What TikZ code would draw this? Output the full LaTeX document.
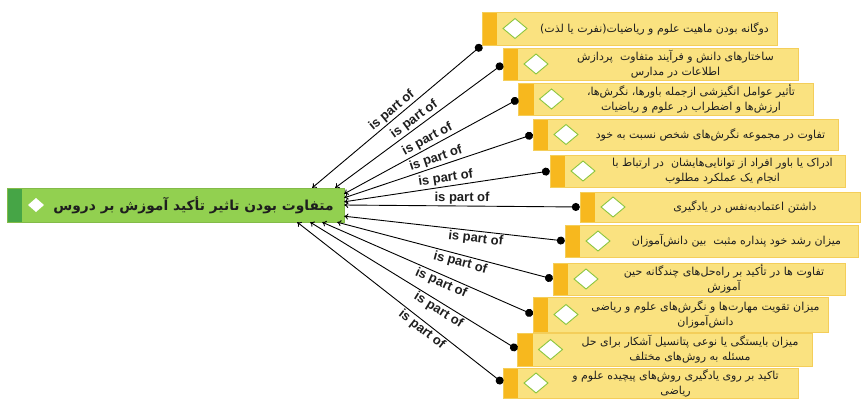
\documentclass[tikz,border=0pt]{standalone}
\usepackage{fontspec}
\setmainfont{Liberation Sans}
\newfontfamily\fa[Script=Arabic]{DejaVu Sans}
\TeXXeTstate=1
\usetikzlibrary{arrows.meta}
\definecolor{boxfill}{RGB}{250,226,128}
\definecolor{boxline}{RGB}{244,206,90}
\definecolor{boxbar}{RGB}{247,184,30}
\definecolor{rootfill}{RGB}{146,208,80}
\definecolor{rootbar}{RGB}{70,165,70}
\definecolor{gem}{RGB}{140,198,63}
\definecolor{ink}{RGB}{30,30,30}

\begin{document}
\begin{tikzpicture}[x=1pt,y=-1pt,
%    every node/.style={draw},
    item/.style={draw=boxline,fill=boxfill,minimum width=295pt,minimum height=32pt,inner sep=0pt,
      path picture={
        \fill[boxbar] (path picture bounding box.north west) rectangle ([xshift=15pt]path picture bounding box.south west);
        \draw[gem,fill=white,line width=0.9pt] ([xshift=21pt]path picture bounding box.west)
          -- ++(12pt,10pt) -- ++(12pt,-10pt) -- ++(-12pt,-10pt) -- cycle;}},
    root/.style={draw=rootfill!90!black,fill=rootfill,minimum width=337pt,minimum height=34pt,inner sep=0pt,
      path picture={
        \fill[rootbar] (path picture bounding box.north west) rectangle ([xshift=15pt]path picture bounding box.south west);
        \fill[white] ([xshift=21pt]path picture bounding box.west)
          -- ++(8pt,7pt) -- ++(8pt,-7pt) -- ++(-8pt,-7pt) -- cycle;}},
    fa/.style={font=\fa\fontsize{11}{15}\selectfont,text=ink,align=center,inner sep=0pt},
    partof/.style={{Circle[length=8pt]}-{To[length=4pt,width=6pt]},line width=0.9pt},
    tag/.style={font=\bfseries\fontsize{13}{15}\selectfont,sloped,text=ink,inner sep=1.5pt}]

    \useasboundingbox (0,0) rectangle (861,399);

    \node[root] (R) at (175.5,205) {};
    \node[fa,font=\fa\bfseries\fontsize{13.8}{16}\selectfont] (RT) at ([xshift=18pt]R.center)
      {\beginR متفاوت بودن تاثیر تأکید آموزش بر دروس\endR};

    \begin{scope}[every node/.append style={item}]
      \node (F1) at (629.5,28.5) [minimum height=33pt] {};
      \node (F2) at (650.5,64) {};
      \node (F3) at (666,99) {};
      \node (F4) at (685.5,134.5) [minimum width=305pt,minimum height=31pt] {};
      \node (F5) at (697.5,171) {};
      \node (F6) at (720,207) [minimum width=280pt,minimum height=30pt] {};
      \node (F7) at (711.5,241) [minimum width=293pt] {};
      \node (F8) at (699,279) [minimum width=292pt] {};
      \node (F9) at (680.5,314.5) [minimum height=35pt] {};
      \node (F10) at (665,349.5) [minimum height=33pt] {};
      \node (F11) at (650.5,383) [minimum height=30pt] {};
    \end{scope}

    \begin{scope}[every node/.append style={fa}]
      \node (T1) at ([xshift=25pt]F1.center) {\beginR دوگانه بودن ماهیت علوم و ریاضیات(نفرت یا لذت)\endR};
      \node (T2) at ([xshift=25pt]F2.center) {\beginR ساختارهای دانش و فرآیند متفاوت~ پردازش\endR\\\beginR اطلاعات در مدارس\endR};
      \node (T3) at ([xshift=25pt]F3.center) {\beginR تأثیر عوامل انگیزشی ازجمله باورها، نگرش‌ها،\endR\\\beginR ارزش‌ها و اضطراب در علوم و ریاضیات\endR};
      \node (T4) at ([xshift=25pt]F4.center) {\beginR تفاوت در مجموعه نگرش‌های شخص نسبت به خود\endR};
      \node (T5) at ([xshift=25pt]F5.center) {\beginR ادراک یا باور افراد از توانایی‌هایشان~ در ارتباط با\endR\\\beginR انجام یک عملکرد مطلوب\endR};
      \node (T6) at ([xshift=25pt]F6.center) {\beginR داشتن اعتمادبه‌نفس در یادگیری\endR};
      \node (T7) at ([xshift=25pt]F7.center) {\beginR میزان رشد خود پنداره مثبت~ بین دانش‌آموزان\endR};
      \node (T8) at ([xshift=25pt]F8.center) {\beginR تفاوت ها در تأکید بر راه‌حل‌های چندگانه حین\endR\\\beginR آموزش\endR};
      \node (T9) at ([xshift=25pt]F9.center) {\beginR میزان تقویت مهارت‌ها و نگرش‌های علوم و ریاضی\endR\\\beginR دانش‌آموزان\endR};
      \node (T10) at ([xshift=25pt]F10.center) {\beginR میزان بایستگی یا نوعی پتانسیل آشکار برای حل\endR\\\beginR مسئله به روش‌های مختلف\endR};
      \node (T11) at ([xshift=25pt]F11.center) {\beginR تاکید بر روی یادگیری روش‌های پیچیده علوم و\endR\\\beginR ریاضی\endR};
    \end{scope}

    \draw[partof] (F1.south west) -- node[tag,above] {is part of} ([xshift=-32pt]R.north east);
    \draw[partof] (F2.west) -- node[tag,above] {is part of} ([xshift=-9pt]R.north east);
    \draw[partof] (F3.west) -- node[tag,above] {is part of} ([yshift=-6pt]R.north east);
    \draw[partof] (F4.west) -- node[tag,above] {is part of} ([yshift=-10pt]R.north east);
    \draw[partof] (F5.west) -- node[tag,above] {is part of} ([yshift=-14pt]R.north east);
    \draw[partof] (F6.west) -- node[tag,above] {is part of} (R.east);
    \draw[partof] (F7.west) -- node[tag,below,pos=0.4] {is part of} ([yshift=6pt]R.south east);
    \draw[partof] (F8.west) -- node[tag,below,pos=0.42] {is part of} ([xshift=-7pt]R.south east);
    \draw[partof] (F9.west) -- node[tag,below,pos=0.42] {is part of} ([xshift=-22pt]R.south east);
    \draw[partof] (F10.west) -- node[tag,below,pos=0.36] {is part of} ([xshift=-34pt]R.south east);
    \draw[partof] (F11.west) -- node[tag,below,pos=0.37] {is part of} ([xshift=-47pt]R.south east);
  \end{tikzpicture}
\end{document}
